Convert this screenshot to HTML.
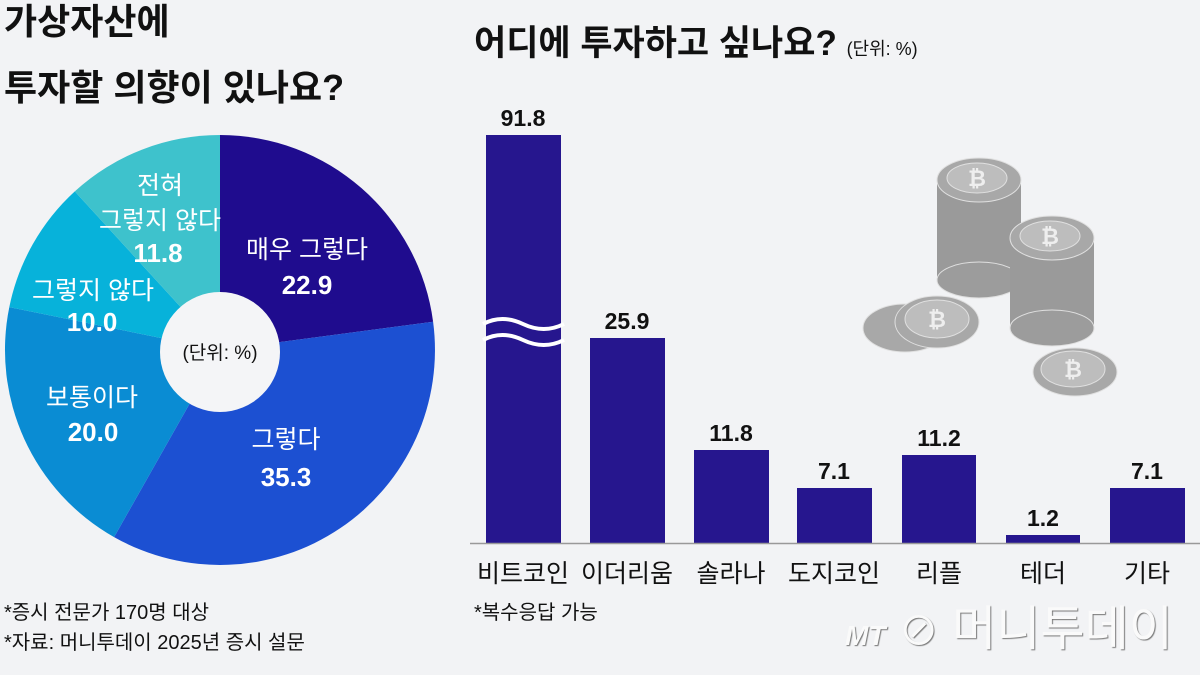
<!DOCTYPE html>
<html><head><meta charset="utf-8"><style>
html,body{margin:0;padding:0;background:#f2f3f5;}
body{width:1200px;height:675px;position:relative;overflow:hidden;font-family:"Liberation Sans","Noto Sans CJK KR",sans-serif;color:#111;}
.t{position:absolute;white-space:nowrap;}
</style></head><body>
<svg width="1200" height="675" style="position:absolute;left:0;top:0" font-family="Liberation Sans, Noto Sans CJK KR, sans-serif">
  <path d="M220,350 L220,135 A215,215 0 0 1 433.1,321.7 Z" fill="#1f0c8e"/>
  <path d="M220,350 L433.1,321.7 A215,215 0 0 1 114.1,537.1 Z" fill="#1c50d2"/>
  <path d="M220,350 L114.1,537.1 A215,215 0 0 1 9.3,307.1 Z" fill="#0a8cd3"/>
  <path d="M220,350 L9.3,307.1 A215,215 0 0 1 74.8,191.4 Z" fill="#07b2da"/>
  <path d="M220,350 L74.8,191.4 A215,215 0 0 1 220,135 Z" fill="#3ec2cc"/>
  <circle cx="220" cy="352" r="60" fill="#f4f5f7"/>
  <g fill="#fff" text-anchor="middle" font-size="25">
    <text x="160" y="194">전혀</text>
    <text x="160" y="229">그렇지 않다</text>
    <text x="158" y="262" font-weight="bold" font-size="26">11.8</text>
    <text x="93" y="299">그렇지 않다</text>
    <text x="92" y="331" font-weight="bold" font-size="26">10.0</text>
    <text x="92" y="406">보통이다</text>
    <text x="93" y="441" font-weight="bold" font-size="26">20.0</text>
    <text x="307" y="258">매우 그렇다</text>
    <text x="307" y="294" font-weight="bold" font-size="26">22.9</text>
    <text x="286" y="448">그렇다</text>
    <text x="286" y="486" font-weight="bold" font-size="26">35.3</text>
  </g>
  <text x="220" y="359" text-anchor="middle" font-size="19" fill="#111">(단위: %)</text>

  <g fill="#9c9c9c" stroke="#e0e0e0" stroke-width="1">
    <rect x="937" y="180" width="84" height="100" fill="#9a9a9a" stroke="none"/>
    <ellipse cx="979" cy="280" rx="42" ry="18"/>
    <ellipse cx="979" cy="180" rx="42" ry="22" fill="#a8a8a8"/>
    <ellipse cx="977" cy="178" rx="30" ry="15" fill="#bdbdbd"/>
    <rect x="1010" y="238" width="84" height="90" fill="#9a9a9a" stroke="none"/>
    <ellipse cx="1052" cy="328" rx="42" ry="18"/>
    <ellipse cx="1052" cy="238" rx="42" ry="22" fill="#a8a8a8"/>
    <ellipse cx="1050" cy="236" rx="30" ry="15" fill="#bdbdbd"/>
    <ellipse cx="905" cy="328" rx="42" ry="24" fill="#a8a8a8"/>
    <ellipse cx="937" cy="322" rx="42" ry="26" fill="#a8a8a8"/>
    <ellipse cx="937" cy="319" rx="32" ry="19" fill="#bdbdbd"/>
    <ellipse cx="1075" cy="372" rx="42" ry="24" fill="#a8a8a8"/>
    <ellipse cx="1073" cy="369" rx="32" ry="18" fill="#bdbdbd"/>
  </g>
  <g fill="#eee" font-weight="bold" font-size="22" text-anchor="middle">
    <text x="977" y="186">₿</text><text x="1050" y="244">₿</text>
    <text x="937" y="327">₿</text><text x="1073" y="377">₿</text>
  </g>

  <g fill="#26168e">
    <rect x="486" y="135" width="75" height="408"/>
    <rect x="590" y="338" width="75" height="205"/>
    <rect x="694" y="450" width="75" height="93"/>
    <rect x="797" y="488" width="75" height="55"/>
    <rect x="902" y="455" width="74" height="88"/>
    <rect x="1006" y="535" width="74" height="8"/>
    <rect x="1110" y="488" width="75" height="55"/>
  </g>
  <path d="M483,324 Q502,314 523,324 T564,324" stroke="#fff" stroke-width="4" fill="none"/>
  <path d="M483,340 Q502,330 523,340 T564,340" stroke="#fff" stroke-width="4" fill="none"/>
  <line x1="470" y1="543.5" x2="1200" y2="543.5" stroke="#999" stroke-width="1.5"/>
  <g font-weight="bold" font-size="23" text-anchor="middle" fill="#111">
    <text x="523" y="126">91.8</text>
    <text x="627" y="329">25.9</text>
    <text x="731" y="441">11.8</text>
    <text x="834" y="479">7.1</text>
    <text x="939" y="446">11.2</text>
    <text x="1043" y="526">1.2</text>
    <text x="1147" y="479">7.1</text>
  </g>
  <g font-size="25" text-anchor="middle" fill="#111">
    <text x="523" y="582">비트코인</text>
    <text x="627" y="582">이더리움</text>
    <text x="731" y="582">솔라나</text>
    <text x="834" y="582">도지코인</text>
    <text x="939" y="582">리플</text>
    <text x="1043" y="582">테더</text>
    <text x="1147" y="582">기타</text>
  </g>
</svg>
<div class="t" style="left:4px;top:0px;font-size:36px;font-weight:bold;line-height:44px">가상자산에</div>
<div class="t" style="left:4px;top:66px;font-size:36px;font-weight:bold;line-height:44px">투자할 의향이 있나요?</div>
<div class="t" style="left:474px;top:22px;font-size:35px;font-weight:bold;line-height:44px">어디에 투자하고 싶나요? <span style="font-size:18px;font-weight:normal">(단위: %)</span></div>
<div class="t" style="left:4px;top:596px;font-size:20px">*증시 전문가 170명 대상</div>
<div class="t" style="left:4px;top:626px;font-size:20px">*자료: 머니투데이 2025년 증시 설문</div>
<div class="t" style="left:474px;top:596px;font-size:20px">*복수응답 가능</div>
<div class="t" style="left:845px;top:602px;font-size:48px;color:#fafafa;text-shadow:1px 1px 1px #777;line-height:56px"><span style="font-size:28px;font-style:italic;font-weight:bold">MT</span> <span style="font-size:40px">⊘</span> 머니투데이</div>
</body></html>
